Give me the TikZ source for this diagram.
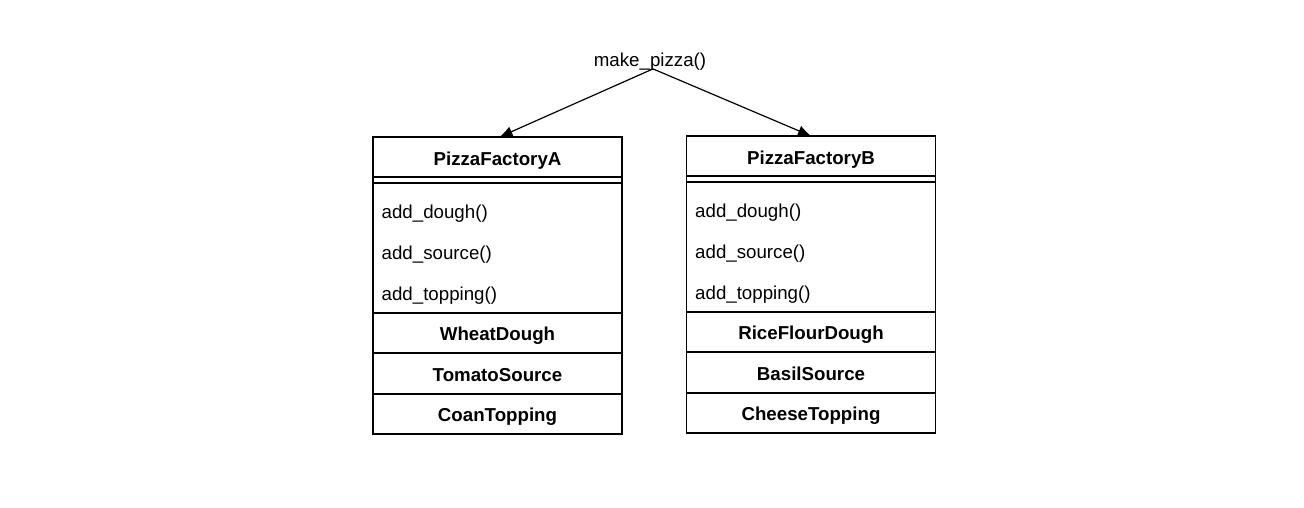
\documentclass[tikz,border=0pt]{standalone}
\usepackage{fontspec}
\setmainfont{Liberation Sans}
\usetikzlibrary{arrows.meta,positioning}
\tikzset{
	cell/.style={draw, line width=1.2pt, outer sep=0pt, inner sep=0pt, minimum width=249pt, text height=15.4pt, text depth=0pt, font=\fontsize{18.7}{22}\selectfont\bfseries},
	title/.style={cell, minimum height=40pt, text height=17.4pt},
	gap/.style={cell, minimum height=6pt, text height=0pt},
	op/.style={anchor=west, inner sep=0pt, text height=13.4pt, text depth=0pt},
	call/.style={-{Latex[length=13pt,width=11pt]}, line width=1.2pt}
}

\begin{document}
\begin{tikzpicture}[x=1pt, y=-1pt, font=\fontsize{18.7}{22}\selectfont]
		%%%%% START %%%%%
		
		\useasboundingbox (0, 0) rectangle (1304, 508);
		
		\node[inner sep=0pt, text height=13.4pt, text depth=4pt] (make) at (650, 62) {make\_pizza()};
		
		% factory A
		\node[title] (titleA) at (497.5, 157) {PizzaFactoryA};
		\node[gap, below=0pt of titleA] (gapA) {};
		\node[cell, minimum height=130pt, below=0pt of gapA] (opsA) {};
		\node[cell, minimum height=40pt, below=0pt of opsA] (doughA) {WheatDough};
		\node[cell, minimum height=41pt, below=0pt of doughA] (sourceA) {TomatoSource};
		\node[cell, minimum height=40pt, below=0pt of sourceA] (toppingA) {CoanTopping};
		
		\node[op] (addDoughA) at (381.5, 212) {add\_dough()};
		\node[op] (addSourceA) at (381.5, 253) {add\_source()};
		\node[op] (addToppingA) at (381.5, 294) {add\_topping()};
		
		% factory B
		\node[title] (titleB) at (811, 156) {PizzaFactoryB};
		\node[gap, below=0pt of titleB] (gapB) {};
		\node[cell, minimum height=130pt, below=0pt of gapB] (opsB) {};
		\node[cell, minimum height=40pt, below=0pt of opsB] (doughB) {RiceFlourDough};
		\node[cell, minimum height=41pt, below=0pt of doughB] (sourceB) {BasilSource};
		\node[cell, minimum height=40pt, below=0pt of sourceB] (toppingB) {CheeseTopping};
		
		\node[op] (addDoughB) at (695, 211) {add\_dough()};
		\node[op] (addSourceB) at (695, 252) {add\_source()};
		\node[op] (addToppingB) at (695, 293) {add\_topping()};
		
		% calls
		\draw[call] ([shift={(3pt,2pt)}]make.south) -- ([xshift=2pt]titleA.north);
		\draw[call] ([shift={(3pt,2pt)}]make.south) -- (titleB.north);
		
		%%%%% END %%%%%
	\end{tikzpicture}
\end{document}
